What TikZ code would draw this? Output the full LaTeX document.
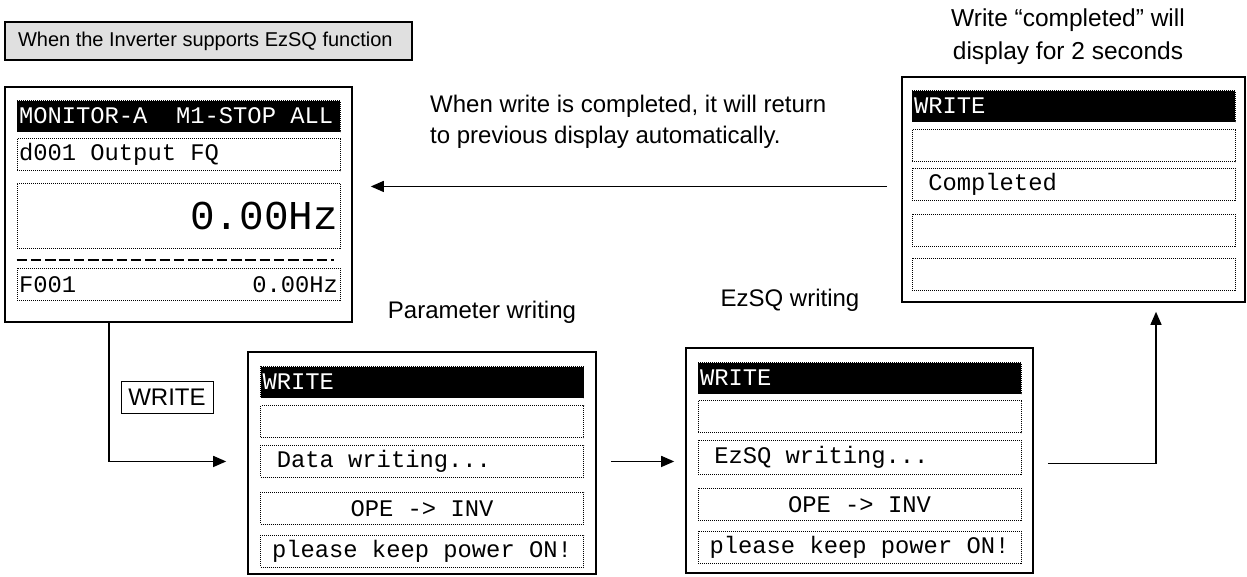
\documentclass[tikz,border=0pt]{standalone}
\usepackage{fontspec}
\setmainfont{Liberation Sans}
\setmonofont{Liberation Mono}
\usetikzlibrary{positioning, arrows.meta, calc}

\newcommand{\lcdfont}{\ttfamily\fontsize{23.8}{28}\selectfont}
\newcommand{\lcdbigfont}{\ttfamily\fontsize{41}{46}\selectfont}
\newcommand{\annfont}{\fontsize{24}{31}\selectfont}
\newcommand{\ttlfont}{\fontsize{20}{24}\selectfont}

\begin{document}
\begin{tikzpicture}[
    x=1pt, y=-1pt,
    panel/.style={draw=black, line width=1.6pt, minimum width=347pt, inner sep=0pt},
    row/.style={draw=black, line width=0.9pt, dash pattern=on 1pt off 1pt, text width=319pt, inner xsep=2pt, inner ysep=0pt, minimum height=32pt, align=flush left, font=\lcdfont},
    hdr/.style={row, fill=black, text=white, minimum height=31pt},
    sepline/.style={line width=1.5pt, dash pattern=on 10.5pt off 3.8pt},
    flow/.style={-{Triangle[length=13pt, width=11pt]}, line width=1.3pt},
    lab/.style={font=\annfont, inner sep=0pt},
    key/.style={draw=black, line width=1pt, minimum width=92pt, minimum height=32pt, inner sep=0pt, font=\annfont},
    title/.style={draw=black, line width=1.2pt, fill=black!12, text width=381pt, inner xsep=13pt, minimum height=38pt, align=flush left, font=\ttlfont}
]
\useasboundingbox (0,0) rectangle (1247,576);

% --- display panels ---
\node[panel, minimum height=235pt] (mon) at (178.5,204.5) {};
\node[panel, minimum width=348pt, minimum height=222pt] (par) at (422,463) {};
\node[panel, minimum height=225pt] (ezs) at (859.5,460.5) {};
\node[panel, minimum width=343pt, minimum height=225pt] (done) at (1073.5,189.5) {};

% monitor screen
\node[hdr, below=14pt of mon.north] (monHead) {MONITOR-A\ \ M1-STOP ALL};
\node[row, below=6pt of monHead] (monName) {d001 Output FQ};
\node[row, below=12pt of monName, minimum height=65pt, align=flush right, font=\lcdbigfont] (monValue) {0.00Hz};
\draw[sepline] ($(monValue.south west)+(0,-11pt)$) -- ($(monValue.south east)+(-6pt,-11pt)$);
\node[row, below=19pt of monValue] (monRef) {\makebox[\linewidth]{F001\hfill 0.00Hz}};

% parameter writing screen
\node[hdr, below=15pt of par.north] (parHead) {WRITE};
\node[row, below=7pt of parHead] (parBlank) {};
\node[row, below=7pt of parBlank] (parMsg) {\ Data writing...};
\node[row, below=14pt of parMsg, align=flush center] (parDir) {OPE -> INV};
\node[row, below=10pt of parDir, align=flush center] (parKeep) {please keep power ON!};

% EzSQ writing screen
\node[hdr, below=15pt of ezs.north] (ezsHead) {WRITE};
\node[row, below=6pt of ezsHead] (ezsBlank) {};
\node[row, below=7pt of ezsBlank, minimum height=34pt] (ezsMsg) {\ EzSQ writing...};
\node[row, below=13pt of ezsMsg, align=flush center] (ezsDir) {OPE -> INV};
\node[row, below=10pt of ezsDir, align=flush center] (ezsKeep) {please keep power ON!};

% completed screen
\node[hdr, below=14pt of done.north] (doneHead) {WRITE};
\node[row, below=7pt of doneHead] (doneBlank) {};
\node[row, below=6pt of doneBlank] (doneMsg) {\ Completed};
\node[row, below=13pt of doneMsg] (doneFree) {};
\node[row, below=11pt of doneFree] (doneLast) {};

% --- labels ---
\node[title] (ttl) at (208.5,41) {When the Inverter supports EzSQ function};
\node[key] (wkey) at (167,397) {WRITE};
\node[lab, align=flush left, anchor=west] (backNote) at (430,122) {When write is completed, it will return\\to previous display automatically.};
\node[lab] (parNote) at (482,312) {Parameter writing};
\node[lab] (ezsNote) at (790,300) {EzSQ writing};
\node[lab, align=flush center, font=\fontsize{24.5}{33}\selectfont] (doneNote) at (1068,37) {Write “completed” will\\display for 2 seconds};

% --- flow ---
% WRITE key pressed
\draw[flow] ($(mon.south)+(-69.5pt,0)$) |- ($(par.west |- parMsg)+(-21pt,0)$);
% parameters done, then EzSQ
\draw[flow] ($(par.east |- parMsg)+(14pt,0)$) -- ($(ezs.west |- parMsg)+(-11pt,0)$);
\draw[flow] ($(ezs.east |- parMsg)+(14pt,-2pt)$) -| ($(done.south)+(82.5pt,-9pt)$);
% back to monitor
\draw[flow] ($(done.west |- doneMsg)+(-14pt,-2pt)$) -- ($(mon.east |- doneMsg)+(18pt,-2pt)$);

\end{tikzpicture}
\end{document}
